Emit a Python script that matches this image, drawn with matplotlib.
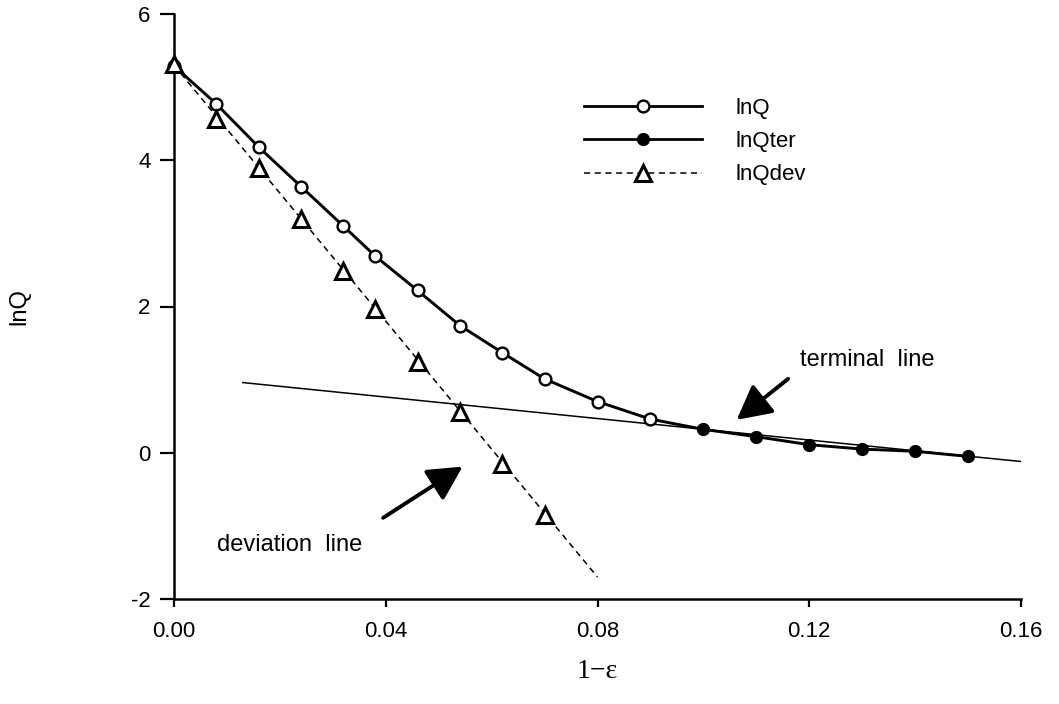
import matplotlib
matplotlib.use("Agg")
import matplotlib.pyplot as plt
from matplotlib.lines import Line2D

# ---- data ----
x_lnq = [0.000, 0.008, 0.016, 0.024, 0.032, 0.038, 0.046, 0.054, 0.062, 0.070, 0.080, 0.090,
         0.100, 0.110, 0.120, 0.130, 0.140, 0.150]
y_lnq = [5.29, 4.77, 4.18, 3.64, 3.10, 2.69, 2.22, 1.74, 1.37, 1.01, 0.70, 0.46,
         0.32, 0.22, 0.11, 0.05, 0.02, -0.05]
n_open = 12  # first points drawn as open circles (lnQ), rest filled (lnQter)

x_dev = [0.000, 0.008, 0.016, 0.024, 0.032, 0.038, 0.046, 0.054, 0.062, 0.070]
y_dev = [5.31, 4.56, 3.89, 3.19, 2.48, 1.96, 1.24, 0.56, -0.16, -0.85]

ter_line_x = [0.013, 0.160]
ter_line_y = [0.96, -0.12]
dev_line_x = [0.000, 0.080]
dev_line_y = [5.30, -1.70]

xticks = [0.00, 0.04, 0.08, 0.12, 0.16]
xtick_labels = ["0.00", "0.04", "0.08", "0.12", "0.16"]
yticks = [-2, 0, 2, 4, 6]
legend_labels = ["lnQ", "lnQter", "lnQdev"]

SANS = ["Liberation Sans", "DejaVu Sans"]
plt.rcParams["font.family"] = SANS
plt.rcParams["axes.unicode_minus"] = False

fig = plt.figure(figsize=(10.59, 7.04), dpi=100)
ax = fig.add_axes([174 / 1059, 1 - 599 / 704, (1021 - 174) / 1059, (599 - 14) / 704])

# terminal straight line (thin)
ax.plot(ter_line_x, ter_line_y, color="black", lw=1.1, zorder=2)
# deviation straight line (dashed)
ax.plot(dev_line_x, dev_line_y, color="black", lw=1.1, ls=(0, (4, 3)), zorder=2, clip_on=False)
# lnQ curve
ax.plot(x_lnq, y_lnq, color="black", lw=2.1, zorder=3, clip_on=False)
ax.plot(x_lnq[:n_open], y_lnq[:n_open], ls="none", marker="o", ms=8.5,
        mfc="white", mec="black", mew=1.7, zorder=4, clip_on=False)
ax.plot(x_lnq[n_open:], y_lnq[n_open:], ls="none", marker="o", ms=8.5,
        mfc="black", mec="black", zorder=4, clip_on=False)
ax.plot(x_dev, y_dev, ls="none", marker="^", ms=11, mfc="white", mec="black",
        mew=2.2, zorder=5, clip_on=False)

ax.set_xlim(0, 0.16)
ax.set_ylim(-2, 6)
ax.set_xticks(xticks)
ax.set_xticklabels(xtick_labels)
ax.set_yticks(yticks)
for s in ("top", "right"):
    ax.spines[s].set_visible(False)
for s in ("left", "bottom"):
    ax.spines[s].set_linewidth(1.8)
ax.tick_params(axis="x", direction="out", length=6, width=1.6, labelsize=16, pad=10)
ax.tick_params(axis="y", direction="out", length=10, width=1.6, labelsize=16, pad=7)

ax.set_xlabel("1\u2212\u03b5", family=["Liberation Serif", "DejaVu Serif"], fontsize=20, labelpad=12)
ax.set_ylabel("lnQ", fontsize=17, labelpad=72)

# annotations
ax.annotate("", xy=(0.1063, 0.45), xytext=(0.116, 1.01),
            arrowprops=dict(arrowstyle="-|>,head_length=0.95,head_width=0.5",
                            color="black", lw=2.8, mutation_scale=22, shrinkA=0, shrinkB=0))
ax.text(0.1182, 1.27, "terminal  line", fontsize=17, ha="left", va="center")

ax.annotate("", xy=(0.0545, -0.19), xytext=(0.0395, -0.89),
            arrowprops=dict(arrowstyle="-|>,head_length=0.95,head_width=0.5",
                            color="black", lw=2.8, mutation_scale=22, shrinkA=0, shrinkB=0))
ax.text(0.0081, -1.26, "deviation  line", fontsize=17, ha="left", va="center")

# legend
handles = [
    Line2D([], [], color="black", lw=2.0, marker="o", ms=8.5, mfc="white", mec="black", mew=1.7),
    Line2D([], [], color="black", lw=2.0, marker="o", ms=8.5, mfc="black", mec="black"),
    Line2D([], [], color="black", lw=1.1, ls=(0, (4, 3)), marker="^", ms=11, mfc="white",
           mec="black", mew=2.2),
]
fig.legend(handles, legend_labels, loc="upper left",
           bbox_to_anchor=(584 / 1059, 1 - 98 / 704), frameon=False, fontsize=16,
           handlelength=5.3, handletextpad=1.5, labelspacing=0.55, borderpad=0,
           borderaxespad=0)

fig.savefig("out.png", dpi=100)
